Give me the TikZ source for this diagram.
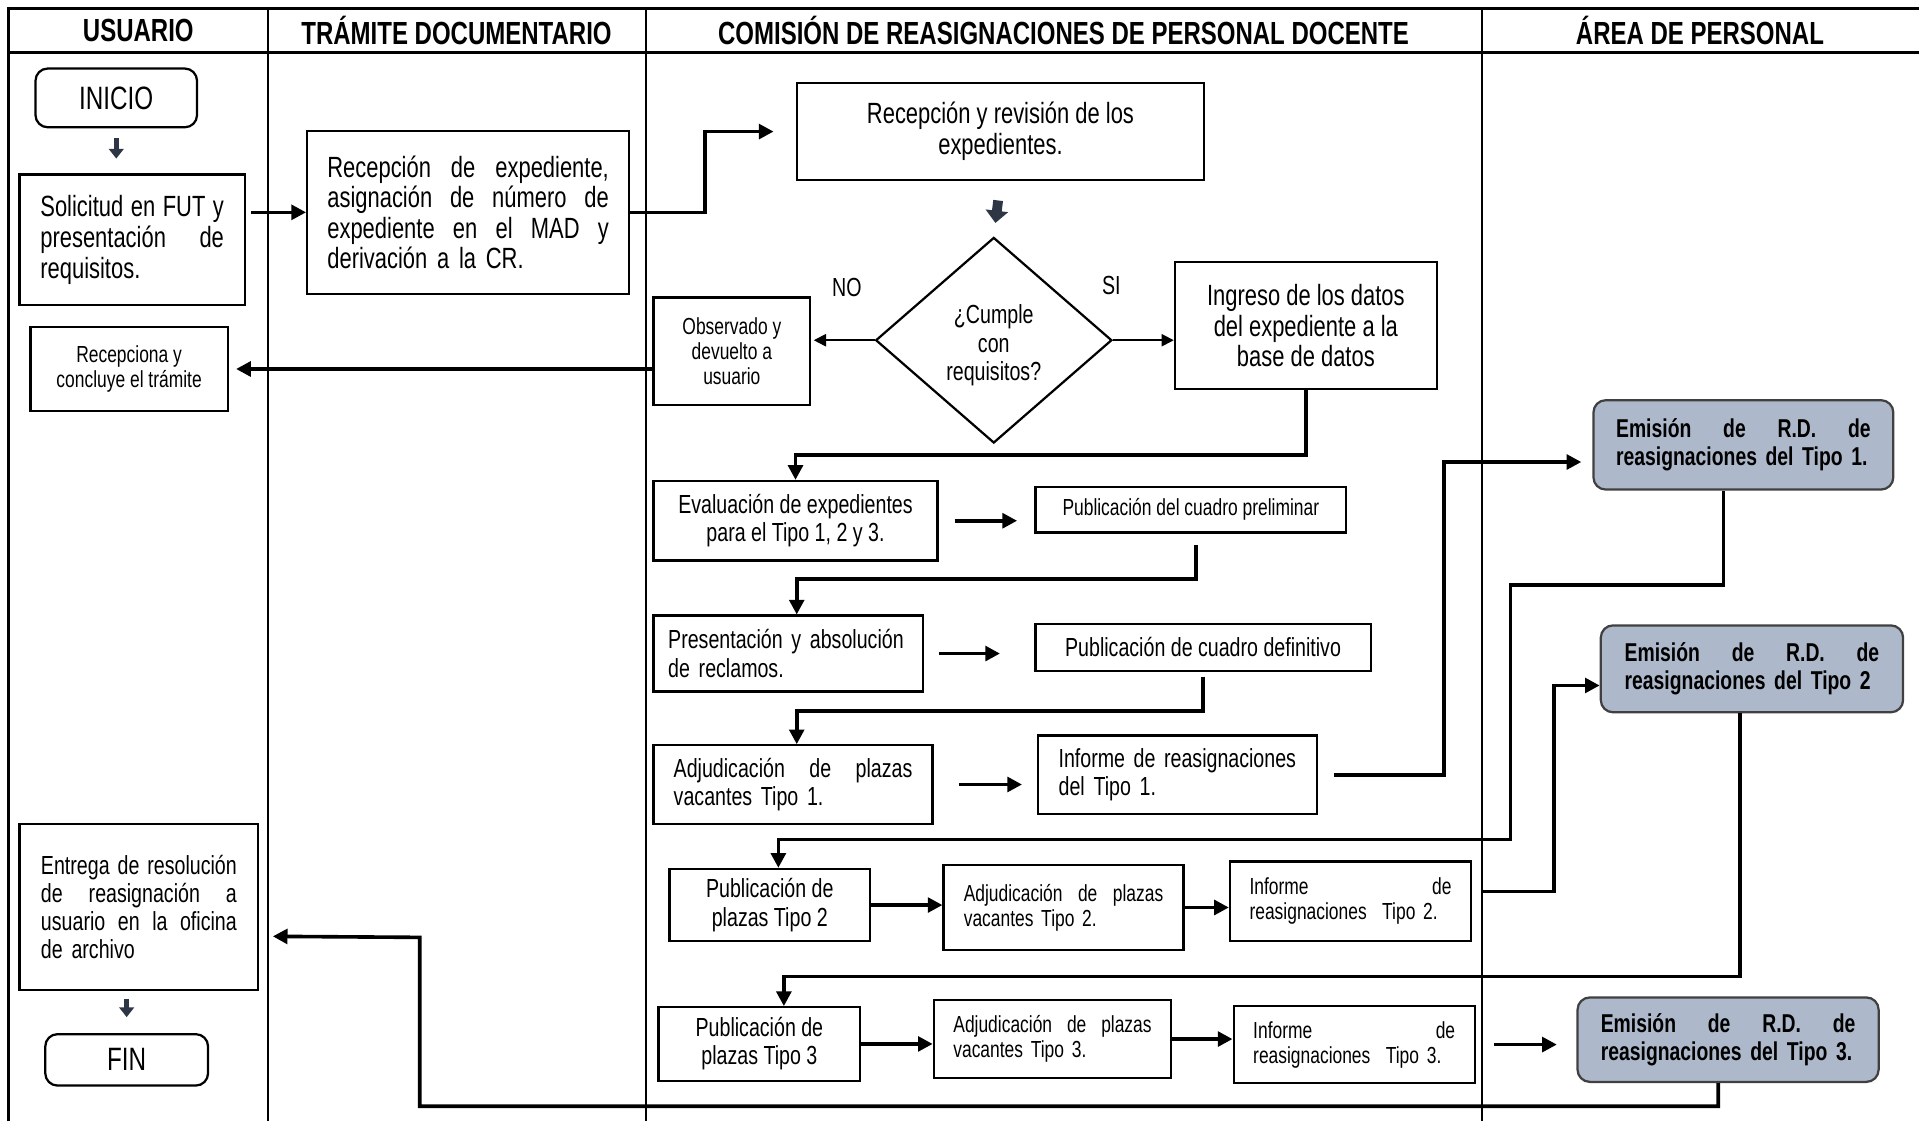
\documentclass[tikz,border=0pt]{standalone}
\usepackage{fontspec}
\setmainfont{Liberation Sans}[FakeStretch=0.75]
\usepackage{xcolor}
\usetikzlibrary{shapes.geometric, arrows.meta, positioning}
\definecolor{emifill}{HTML}{ADB9CA}
\definecolor{emiline}{HTML}{404040}
\definecolor{bloque}{HTML}{2E3645}
\newcommand{\jus}[1]{\makebox[\hsize][s]{\spaceskip=.2em plus 1fil\relax #1}}
\hyphenpenalty=10000
\exhyphenpenalty=10000

\begin{document}
\begin{tikzpicture}[x=0.25mm, y=-0.25mm,
	>={Triangle[length=3mm,width=3mm]},
	tabla/.style={line width=1.4pt},
	hdr/.style={font=\bfseries\fontsize{18.6}{20}\selectfont},
	caja/.style={draw, line width=1.3pt, inner sep=0pt},
	term/.style={caja, rounded corners=2.5mm, font=\fontsize{18.8}{20}\selectfont},
	big/.style={font=\fontsize{17}{17.8}\selectfont},
	mid/.style={font=\fontsize{15.2}{16.4}\selectfont},
	small/.style={font=\fontsize{13.5}{14.6}\selectfont},
	emi/.style={draw=emiline, fill=emifill, line width=1.3pt, rounded corners=2.5mm, inner sep=0pt, align=left, font=\bfseries\fontsize{15}{16.4}\selectfont},
	conn/.style={line width=2.1pt},
	fino/.style={line width=1pt, >={Triangle[length=2.5mm,width=2.5mm]}},
	bloque/.style={draw=bloque, line width=1mm, -{Triangle[length=2mm,width=3mm]}}
	]
	\useasboundingbox (0,0) rectangle (1568,916);

	% carriles
	\draw[tabla] (7,916) -- (7,7) -- (1568,7);
	\draw[tabla] (7,43) -- (1568,43);
	\draw[tabla] (219,7) -- (219,916);
	\draw[tabla] (528,7) -- (528,916);
	\draw[tabla] (1211,7) -- (1211,916);
	\draw (113,25) node[hdr] (hus) {USUARIO}
		(373,25) node[hdr] (htd) {TRÁMITE DOCUMENTARIO}
		(869,25) node[hdr] (hcr) {COMISIÓN DE REASIGNACIONES DE PERSONAL DOCENTE}
		(1389,25) node[hdr] (hap) {ÁREA DE PERSONAL};

	% usuario y tramite
	\draw (95,80) node[term, minimum width=33mm, minimum height=12mm] (inicio) {INICIO}
		(108,196) node[caja, big, minimum width=46mm, minimum height=26.75mm, text width=37.5mm, align=left] (sol) {\jus{Solicitud en FUT y}\\ \jus{presentación de}\\ requisitos.}
		(105.5,301.5) node[caja, small, minimum width=40.25mm, minimum height=17.25mm, align=center] (recon) {Recepciona y\\ concluye el trámite}
		(113.5,741) node[caja, mid, minimum width=48.75mm, minimum height=34mm, text width=40mm, align=left] (entr) {\jus{Entrega de resolución}\\ \jus{de reasignación a}\\ \jus{usuario en la oficina}\\ de archivo}
		(103.5,866) node[term, minimum width=33.25mm, minimum height=10.5mm] (fin) {FIN}
		(382.5,173.5) node[caja, big, minimum width=65.75mm, minimum height=33.25mm, text width=57.5mm, align=left] (recexp) {\jus{Recepción de expediente,}\\ \jus{asignación de número de}\\ \jus{expediente en el MAD y}\\ derivación a la CR.};

	% comision
	\draw (817.5,107.5) node[caja, big, minimum width=83.25mm, minimum height=19.75mm, align=center] (recrev) {Recepción y revisión de los\\ expedientes.}
		(812,278) node[diamond, draw, line width=1.3pt, inner sep=0pt, minimum width=48.25mm, minimum height=42mm, mid, align=center] (dec) {\rule{0pt}{17pt}¿Cumple\\ con\\ requisitos?}
		(692,235) node[mid] (lno) {NO}
		(908,233) node[mid] (lsi) {SI}
		(598,287) node[caja, small, minimum width=32mm, minimum height=22mm, align=center] (obs) {Observado y\\ devuelto a\\ usuario}
		(1067,266) node[caja, big, minimum width=53.5mm, minimum height=26mm, align=center] (ing) {Ingreso de los datos\\ del expediente a la\\ base de datos}
		(650,425.5) node[caja, mid, minimum width=58mm, minimum height=16.25mm, align=center] (eval) {Evaluación de expedientes\\ para el Tipo 1, 2 y 3.}
		(973,416.5) node[caja, small, minimum width=63.5mm, minimum height=9.25mm] (prelim) {Publicación del cuadro preliminar}
		(644,534) node[caja, mid, minimum width=55mm, minimum height=15.5mm, text width=49mm, align=left] (recl) {Presentación y absolución\\ de reclamos.}
		(983,529) node[caja, mid, minimum width=68.5mm, minimum height=9.5mm] (defin) {Publicación de cuadro definitivo}
		(648,641) node[caja, mid, minimum width=57mm, minimum height=16mm, text width=48.75mm, align=left] (adj1) {\jus{Adjudicación de plazas}\\ vacantes Tipo 1.}
		(962,633) node[caja, mid, minimum width=57mm, minimum height=16mm, text width=48.5mm, align=left] (inf1) {\jus{Informe de reasignaciones}\\ del Tipo 1.}
		(629,739.5) node[caja, mid, minimum width=41mm, minimum height=14.75mm, align=center] (pub2) {Publicación de\\ plazas Tipo 2}
		(869,741.5) node[caja, small, minimum width=49mm, minimum height=17.25mm, text width=40.75mm, align=left] (adj2) {\jus{Adjudicación de plazas}\\ vacantes Tipo 2.}
		(1103.5,736.5) node[caja, small, minimum width=49.25mm, minimum height=16.25mm, text width=41.25mm, align=left] (inf2) {\jus{Informe de}\\ reasignaciones~ Tipo 2.}
		(620.5,853) node[caja, mid, minimum width=41.25mm, minimum height=15mm, align=center] (pub3) {Publicación de\\ plazas Tipo 3}
		(860,849) node[caja, small, minimum width=48.5mm, minimum height=16mm, text width=40.5mm, align=left] (adj3) {\jus{Adjudicación de plazas}\\ vacantes Tipo 3.}
		(1106.5,853.5) node[caja, small, minimum width=49.25mm, minimum height=15.75mm, text width=41.25mm, align=left] (inf3) {\jus{Informe de}\\ reasignaciones~ Tipo 3.};

	% area de personal
	\draw (1424.5,363.5) node[emi, minimum width=61.25mm, minimum height=18.25mm, text width=52mm] (emi1) {\jus{Emisión de R.D. de}\\ reasignaciones del Tipo 1.}
		(1431.5,546.5) node[emi, minimum width=61.75mm, minimum height=17.75mm, text width=52mm] (emi2) {\jus{Emisión de R.D. de}\\ reasignaciones del Tipo 2}
		(1412,849.5) node[emi, minimum width=61.5mm, minimum height=17.25mm, text width=52mm] (emi3) {\jus{Emisión de R.D. de}\\ reasignaciones del Tipo 3.};

	% flechas
	\draw[bloque, shorten <=2mm, shorten >=3mm] (inicio.south) -- (inicio.south |- sol.north);
	\draw[conn, ->, shorten <=1mm] (sol.east |- recexp) -- (recexp.west);
	\draw[conn, ->, shorten >=4.5mm] (recexp.east) -- ++(61,0) |- (recrev.west);
	\draw[bloque, line width=2mm, -{Triangle[length=2.5mm,width=4.5mm]}, shorten <=4mm, shorten >=2.75mm] (recrev.south) -- (dec.north);
	\draw[fino, ->, shorten >=0.5mm] (dec.west) -- (dec.west -| obs.east);
	\draw[fino, ->] (dec.east) -- (dec.east -| ing.west);
	\draw[conn, ->, shorten >=1.5mm] (obs.west |- recon) -- (recon.east);
	\draw[conn, ->] (ing.south) -- ++(0,53) -| (eval.north);
	\draw[conn, ->, shorten <=3.25mm, shorten >=3.5mm] (eval.east) -- (eval.east -| prelim.west);
	\draw[conn, ->, shorten <=2.25mm] ([xshift=1mm]prelim.south) -- ++(0,37) -| ([xshift=1.75mm]recl.north);
	\draw[conn, ->, shorten <=3mm, shorten >=7mm] (recl.east) -- (recl.east -| defin.west);
	\draw[conn, ->, shorten <=1mm] (defin.south) -- ++(0,32) -| ([xshift=0.75mm]adj1.north);
	\draw[conn, ->, shorten <=5.25mm, shorten >=3mm] (adj1.east) -- (adj1.east -| inf1.west);
	\draw[conn, ->, shorten <=3.25mm, shorten >=2.25mm] (inf1.east) -- ++(103,0) |- ([yshift=-3.5mm]emi1.west);
	\draw[conn, ->] ([xshift=-4.1mm]emi1.south) -- ++(0,77) -| ++(-174,208) -| ([xshift=1.75mm]pub2.north);
	\draw[conn, ->] (pub2.east) -- (pub2.east -| adj2.west);
	\draw[conn, ->] (adj2.east) -- (adj2.east -| inf2.west);
	\draw[conn, ->, shorten <=2.25mm] ([yshift=2mm]inf2.east) -- ++(67,0) |- ([yshift=-3.4mm]emi2.west);
	\draw[conn, ->] ([xshift=-2.5mm]emi2.south) -- ++(0,215) -| ([xshift=5mm]pub3.north);
	\draw[conn, ->] (pub3.east) -- (pub3.east -| adj3.west);
	\draw[conn, ->] (adj3.east) -- (adj3.east -| inf3.west);
	\draw[conn, ->, shorten <=3.75mm, shorten >=4mm] (inf3.east) -- (inf3.east -| emi3.west);
	\draw[conn, ->, shorten >=2.75mm] ([xshift=-2mm]emi3.south) -- ++(0,19) -| ++(-1061,-138) -- ([yshift=-6mm]entr.east);
	\draw[bloque, shorten <=1.5mm, shorten >=3.25mm] (fin.north |- entr.south) -- (fin.north);
\end{tikzpicture}
\end{document}
